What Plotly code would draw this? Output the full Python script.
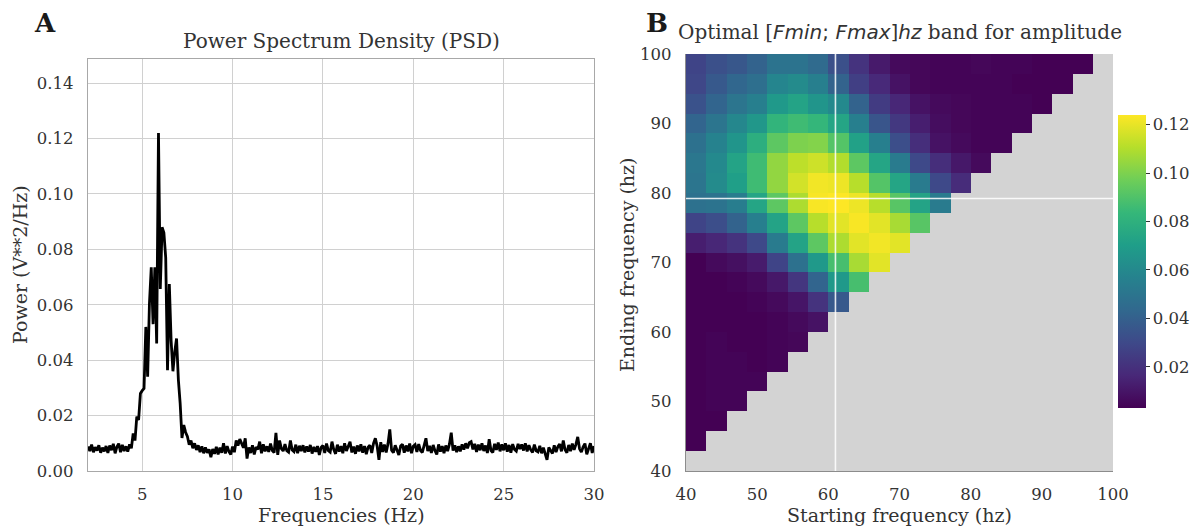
import numpy as np
import plotly.graph_objects as go

# ---------------- Panel A data: PSD ----------------
FREQ_START, FREQ_STEP = 2.0, 0.1
PSD = [
    0.0088, 0.0072, 0.0095, 0.0068, 0.0086, 0.0074, 0.0093, 0.0066, 0.0084, 0.0071,
    0.0090, 0.0065, 0.0092, 0.0075, 0.0098, 0.0064, 0.0087, 0.0099, 0.0068, 0.0094,
    0.0072, 0.0089, 0.0070, 0.0096, 0.0082, 0.0136, 0.0110, 0.0196, 0.0184, 0.0280,
    0.0290, 0.0298, 0.0520, 0.0340, 0.0604, 0.0735, 0.0530, 0.0735, 0.0460, 0.1220,
    0.0657, 0.0880, 0.0860, 0.0770, 0.0364, 0.0675, 0.0470, 0.0360, 0.0430, 0.0478,
    0.0330, 0.0244, 0.0119, 0.0166, 0.0140, 0.0125, 0.0095, 0.0110, 0.0082, 0.0100,
    0.0076, 0.0093, 0.0068, 0.0089, 0.0064, 0.0085, 0.0066, 0.0078, 0.0050, 0.0079,
    0.0062, 0.0087, 0.0060, 0.0084, 0.0066, 0.0100, 0.0063, 0.0090, 0.0070, 0.0060,
    0.0088, 0.0068, 0.0110, 0.0092, 0.0115, 0.0096, 0.0084, 0.0118, 0.0045, 0.0085,
    0.0065, 0.0093, 0.0060, 0.0086, 0.0078, 0.0106, 0.0064, 0.0096, 0.0071, 0.0089,
    0.0069, 0.0099, 0.0074, 0.0066, 0.0138, 0.0058, 0.0110, 0.0081, 0.0072, 0.0097,
    0.0073, 0.0068, 0.0110, 0.0076, 0.0070, 0.0095, 0.0064, 0.0091, 0.0072, 0.0093,
    0.0067, 0.0089, 0.0070, 0.0094, 0.0063, 0.0087, 0.0069, 0.0090, 0.0058, 0.0085,
    0.0092, 0.0065, 0.0099, 0.0073, 0.0068, 0.0106, 0.0077, 0.0062, 0.0095, 0.0070,
    0.0090, 0.0064, 0.0100, 0.0072, 0.0093, 0.0106, 0.0067, 0.0088, 0.0062, 0.0092,
    0.0071, 0.0096, 0.0066, 0.0090, 0.0061, 0.0086, 0.0093, 0.0065, 0.0100, 0.0118,
    0.0090, 0.0040, 0.0104, 0.0069, 0.0095, 0.0067, 0.0098, 0.0150, 0.0075, 0.0066,
    0.0093, 0.0072, 0.0058, 0.0090, 0.0096, 0.0066, 0.0092, 0.0071, 0.0099, 0.0064,
    0.0089, 0.0095, 0.0069, 0.0097, 0.0074, 0.0067, 0.0093, 0.0118, 0.0072, 0.0091,
    0.0065, 0.0094, 0.0073, 0.0060, 0.0096, 0.0070, 0.0090, 0.0064, 0.0092, 0.0072,
    0.0097, 0.0138, 0.0074, 0.0093, 0.0068, 0.0089, 0.0071, 0.0096, 0.0077, 0.0100,
    0.0082, 0.0102, 0.0106, 0.0078, 0.0098, 0.0069, 0.0095, 0.0075, 0.0100, 0.0072,
    0.0092, 0.0065, 0.0115, 0.0074, 0.0067, 0.0098, 0.0076, 0.0103, 0.0071, 0.0096,
    0.0075, 0.0100, 0.0070, 0.0094, 0.0066, 0.0097, 0.0078, 0.0072, 0.0098, 0.0079,
    0.0096, 0.0074, 0.0100, 0.0071, 0.0093, 0.0076, 0.0067, 0.0095, 0.0073, 0.0069,
    0.0091, 0.0064, 0.0084, 0.0062, 0.0040, 0.0085, 0.0076, 0.0063, 0.0093, 0.0068,
    0.0088, 0.0097, 0.0071, 0.0110, 0.0077, 0.0066, 0.0094, 0.0072, 0.0099, 0.0076,
    0.0096, 0.0123, 0.0080, 0.0068, 0.0087, 0.0099, 0.0060, 0.0085, 0.0100, 0.0065,
    0.0090,
]
FREQS = np.round(FREQ_START + FREQ_STEP * np.arange(len(PSD)), 2)
PSD_YTICKS = [0.00, 0.02, 0.04, 0.06, 0.08, 0.10, 0.12, 0.14]
PSD_XTICKS = [5, 10, 15, 20, 25, 30]

# ---------------- Panel B data: band amplitude ----------------
BAND_EDGES = np.linspace(40, 100, 22)       # frequency band edges (hz)
START_EDGES = BAND_EDGES[:21]               # starting frequency cells
END_EDGES = BAND_EDGES[1:]                  # ending frequency cells
# rows listed from the highest ending frequency (top) down to the lowest
AMP_ROWS_TOP_DOWN = [
    [0.028, 0.033, 0.036, 0.041, 0.049, 0.049, 0.045, 0.033, 0.021, 0.0115, 0.006, 0.005, 0.004, 0.004, 0.005, 0.004, 0.004, 0.003, 0.003, 0.003],
    [0.029, 0.037, 0.043, 0.047, 0.058, 0.061, 0.055, 0.041, 0.026, 0.017, 0.009, 0.005, 0.004, 0.004, 0.004, 0.004, 0.003, 0.003, 0.003],
    [0.034, 0.042, 0.050, 0.055, 0.068, 0.073, 0.066, 0.060, 0.041, 0.024, 0.016, 0.009, 0.006, 0.005, 0.004, 0.004, 0.004, 0.003],
    [0.042, 0.050, 0.059, 0.067, 0.082, 0.086, 0.083, 0.074, 0.055, 0.035, 0.023, 0.013, 0.007, 0.005, 0.004, 0.004, 0.004],
    [0.048, 0.057, 0.066, 0.079, 0.093, 0.100, 0.101, 0.091, 0.072, 0.055, 0.032, 0.019, 0.009, 0.006, 0.004, 0.004],
    [0.051, 0.060, 0.073, 0.086, 0.104, 0.112, 0.115, 0.110, 0.093, 0.074, 0.053, 0.030, 0.019, 0.011, 0.006],
    [0.050, 0.061, 0.071, 0.086, 0.104, 0.116, 0.122, 0.121, 0.111, 0.091, 0.074, 0.053, 0.030, 0.018],
    [0.048, 0.049, 0.054, 0.074, 0.093, 0.109, 0.123, 0.124, 0.121, 0.111, 0.092, 0.073, 0.053],
    [0.028, 0.032, 0.041, 0.055, 0.073, 0.093, 0.111, 0.119, 0.123, 0.119, 0.108, 0.092],
    [0.013, 0.016, 0.021, 0.030, 0.053, 0.073, 0.093, 0.109, 0.119, 0.122, 0.119],
    [0.003, 0.006, 0.008, 0.012, 0.028, 0.048, 0.068, 0.088, 0.108, 0.119],
    [0.003, 0.003, 0.004, 0.006, 0.011, 0.022, 0.042, 0.068, 0.088],
    [0.003, 0.003, 0.003, 0.004, 0.006, 0.010, 0.021, 0.037],
    [0.003, 0.003, 0.003, 0.003, 0.004, 0.006, 0.009],
    [0.003, 0.004, 0.003, 0.003, 0.004, 0.005],
    [0.003, 0.004, 0.004, 0.003, 0.004],
    [0.003, 0.004, 0.004, 0.004],
    [0.003, 0.004, 0.004],
    [0.003, 0.003],
    [0.003],
]
AMP_MIN, AMP_MAX = 0.003, 0.124
CBAR_TICKS = [0.02, 0.04, 0.06, 0.08, 0.10, 0.12]
BEST_FMIN, BEST_FMAX = 61.0, 79.2
B_TICKS = [40, 50, 60, 70, 80, 90, 100]

ncols = len(START_EDGES) - 1
z = []
for row in reversed(AMP_ROWS_TOP_DOWN):
    z.append(list(row) + [None] * (ncols - len(row)))

W, H = 1203, 527
FONT = "DejaVu Serif"
TXT = "#333333"
TICK_SIZE = 16.5

def px(x):
    return x / W

def py(y):
    return 1 - y / H

fig = go.Figure()
fig.add_trace(go.Scatter(
    x=FREQS, y=PSD, mode="lines",
    line=dict(color="black", width=2.8),
    xaxis="x", yaxis="y", showlegend=False, hoverinfo="skip",
))
fig.add_trace(go.Heatmap(
    x=START_EDGES, y=END_EDGES, z=z,
    colorscale="Viridis", zmin=AMP_MIN, zmax=AMP_MAX,
    xaxis="x2", yaxis="y2", hoverinfo="skip",
    colorbar=dict(
        x=px(1118), xanchor="left", y=py(261.5), yanchor="middle",
        thickness=28, thicknessmode="pixels",
        len=293 / H, lenmode="fraction", xpad=0, ypad=0,
        outlinewidth=0, ticks="outside", ticklen=4, tickcolor=TXT,
        tickvals=CBAR_TICKS, ticktext=[f"{v:.2f}" for v in CBAR_TICKS],
        tickfont=dict(family=FONT, size=TICK_SIZE, color=TXT),
    ),
))

axis_common = dict(
    tickfont=dict(family=FONT, size=TICK_SIZE, color=TXT),
    zeroline=False, automargin=False,
)

fig.update_layout(
    width=W, height=H,
    margin=dict(l=0, r=0, t=0, b=0, autoexpand=False),
    paper_bgcolor="white",
    font=dict(family=FONT, color=TXT),
    xaxis=dict(
        domain=[px(88), px(594)], range=[2, 30], anchor="y",
        tickvals=PSD_XTICKS, showgrid=True, gridcolor="#d0d0d0", gridwidth=1,
        showline=True, linecolor="#a8a8a8", linewidth=1.2, mirror=True,
        ticks="", ticklabelstandoff=8, **axis_common,
    ),
    yaxis=dict(
        domain=[py(471), py(59)], range=[0, 0.1487], anchor="x",
        tickvals=PSD_YTICKS, ticktext=[f"{v:.2f}" for v in PSD_YTICKS],
        showgrid=True, gridcolor="#d0d0d0", gridwidth=1,
        showline=True, linecolor="#a8a8a8", linewidth=1.2, mirror=True,
        ticks="", ticklabelstandoff=10, **axis_common,
    ),
    xaxis2=dict(
        domain=[px(686), px(1113)], range=[40, 100], anchor="y2",
        tickvals=B_TICKS, showgrid=False,
        showline=True, linecolor="#8c8c8c", linewidth=1.2,
        ticks="", ticklabelstandoff=8, **axis_common,
    ),
    yaxis2=dict(
        domain=[py(471), py(54)], range=[40, 100], anchor="x2",
        tickvals=B_TICKS, showgrid=False,
        showline=True, linecolor="#8c8c8c", linewidth=1.2,
        ticks="", ticklabelstandoff=10, **axis_common,
    ),
    plot_bgcolor="white",
)

# light gray background for panel B
fig.add_shape(type="rect", xref="x2", yref="y2", x0=40, x1=100, y0=40, y1=100,
              fillcolor="#d3d3d3", line=dict(width=0), layer="below")
# crosshair at optimal band
fig.add_shape(type="line", xref="x2", yref="y2", x0=BEST_FMIN, x1=BEST_FMIN, y0=40, y1=100,
              line=dict(color="rgba(255,255,255,0.85)", width=1.6))
fig.add_shape(type="line", xref="x2", yref="y2", x0=40, x1=100, y0=BEST_FMAX, y1=BEST_FMAX,
              line=dict(color="rgba(255,255,255,0.85)", width=1.6))

ann = [
    dict(text="<b>A</b>", x=px(45), y=py(23), size=26, color="#1a1a1a"),
    dict(text="<b>B</b>", x=px(657), y=py(23), size=26, color="#1a1a1a"),
    dict(text="Power Spectrum Density (PSD)", x=px(341), y=py(41), size=20, color=TXT),
    dict(text="Optimal [<span style='font-family:DejaVu Sans'><i>Fmin</i>; <i>Fmax</i>]<i>hz</i></span> band for amplitude",
         x=px(900), y=py(32), size=20, color=TXT),
    dict(text="Frequencies (Hz)", x=px(341), y=py(515), size=19, color=TXT),
    dict(text="Starting frequency (hz)", x=px(899), y=py(515), size=19, color=TXT),
    dict(text="Power (V**2/Hz)", x=px(20), y=py(265), size=19, color=TXT, angle=-90),
    dict(text="Ending frequency (hz)", x=px(627), y=py(265), size=19, color=TXT, angle=-90),
]
for a in ann:
    fig.add_annotation(
        text=a["text"], x=a["x"], y=a["y"], xref="paper", yref="paper",
        xanchor="center", yanchor="middle", showarrow=False,
        textangle=a.get("angle", 0),
        font=dict(family=FONT, size=a["size"], color=a["color"]),
    )

fig.write_html(
    "out.html",
    config={"displayModeBar": False},
    post_script="document.body.style.margin='0';document.body.style.overflow='hidden';",
)
